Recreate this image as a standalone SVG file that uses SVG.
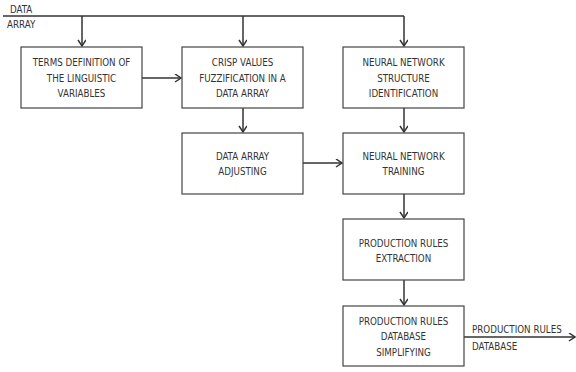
<svg xmlns="http://www.w3.org/2000/svg" width="576" height="372" viewBox="0 0 576 372">
<style>
.box{fill:#fff;stroke:#444;stroke-width:1.2}
.ln{fill:none;stroke:#333;stroke-width:1.5}
text{font-family:"DejaVu Sans Condensed","Liberation Sans",sans-serif;font-size:9.7px;fill:#333;text-anchor:middle}
.l{text-anchor:start}
</style>
<defs>
<marker id="ah" markerWidth="10" markerHeight="10" refX="7" refY="4" orient="auto" markerUnits="userSpaceOnUse">
<path d="M1,0 L7,4 L1,8" fill="none" stroke="#333" stroke-width="1.5"/>
</marker>
</defs>
<g id="connectors">
<path class="ln" d="M3,16 H404"/>
<path class="ln" d="M82,16 V46" marker-end="url(#ah)"/>
<path class="ln" d="M243,16 V46" marker-end="url(#ah)"/>
<path class="ln" d="M404,16 V46" marker-end="url(#ah)"/>
<path class="ln" d="M142,78 H181" marker-end="url(#ah)"/>
<path class="ln" d="M243,108 V132" marker-end="url(#ah)"/>
<path class="ln" d="M404,108 V132" marker-end="url(#ah)"/>
<path class="ln" d="M303,163 H342" marker-end="url(#ah)"/>
<path class="ln" d="M404,194 V218" marker-end="url(#ah)"/>
<path class="ln" d="M404,280 V305" marker-end="url(#ah)"/>
<path class="ln" d="M464,337 H575" marker-end="url(#ah)"/>
<text class="l" x="10" y="13">DATA</text>
<text class="l" x="7" y="28">ARRAY</text>
<text class="l" x="472" y="333">PRODUCTION RULES</text>
<text class="l" x="472" y="350">DATABASE</text>
</g>
<g id="n1">
<rect class="box" x="21" y="47" width="121" height="61"/>
<text x="81.5" y="66">TERMS DEFINITION OF</text>
<text x="81.5" y="82">THE LINGUISTIC</text>
<text x="81.5" y="97">VARIABLES</text>
</g>
<g id="n2">
<rect class="box" x="182" y="47" width="121" height="61"/>
<text x="242.5" y="66">CRISP VALUES</text>
<text x="242.5" y="82">FUZZIFICATION IN A</text>
<text x="242.5" y="97">DATA ARRAY</text>
</g>
<g id="n3">
<rect class="box" x="343" y="47" width="121" height="61"/>
<text x="403.5" y="66">NEURAL NETWORK</text>
<text x="403.5" y="82">STRUCTURE</text>
<text x="403.5" y="97">IDENTIFICATION</text>
</g>
<g id="n4">
<rect class="box" x="182" y="133" width="121" height="61"/>
<text x="242.5" y="160">DATA ARRAY</text>
<text x="242.5" y="175">ADJUSTING</text>
</g>
<g id="n5">
<rect class="box" x="343" y="133" width="121" height="61"/>
<text x="403.5" y="160">NEURAL NETWORK</text>
<text x="403.5" y="175">TRAINING</text>
</g>
<g id="n6">
<rect class="box" x="343" y="219" width="121" height="61"/>
<text x="403.5" y="247">PRODUCTION RULES</text>
<text x="403.5" y="262">EXTRACTION</text>
</g>
<g id="n7">
<rect class="box" x="343" y="306" width="121" height="60"/>
<text x="403.5" y="325">PRODUCTION RULES</text>
<text x="403.5" y="340">DATABASE</text>
<text x="403.5" y="356">SIMPLIFYING</text>
</g>
</svg>
